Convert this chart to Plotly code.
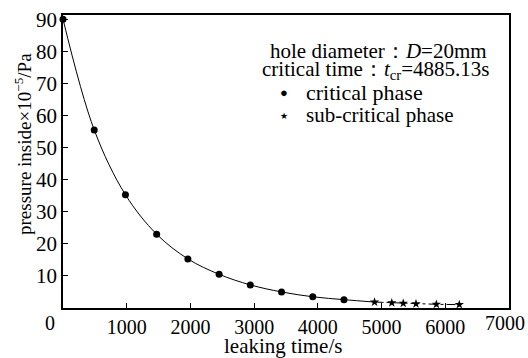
import plotly.graph_objects as go

crit_t = [0, 490, 980, 1470, 1960, 2450, 2940, 3430, 3920, 4410]
crit_p = [90, 55.5, 35.3, 23.0, 15.3, 10.5, 7.2, 5.0, 3.5, 2.6]
sub_t = [4890, 5160, 5340, 5540, 5860, 6220]
sub_p = [1.85, 1.6, 1.45, 1.3, 1.15, 1.05]
xticks = [1000, 2000, 3000, 4000, 5000, 6000]
yticks = [10, 20, 30, 40, 50, 60, 70, 80, 90]

FONT = "Liberation Serif"
L, T, W, H = 63, 15, 446, 293


def px(xp, yp):
    return (xp - L) / W, 1 - (yp - T) / H


def ann(text, xp, yp, size, xanchor="center", angle=0):
    x, y = px(xp, yp)
    return dict(text=text, x=x, y=y, xref="paper", yref="paper", xanchor=xanchor,
                yanchor="middle", showarrow=False, textangle=angle,
                font=dict(size=size, family=FONT, color="black"))


fig = go.Figure()
fig.add_trace(go.Scatter(x=crit_t + sub_t[:1], y=crit_p + sub_p[:1], mode="lines",
                         line=dict(color="black", width=1, shape="spline"),
                         showlegend=False, hoverinfo="skip", cliponaxis=False))
fig.add_trace(go.Scatter(x=sub_t, y=sub_p, mode="lines+markers", name="sub-critical phase",
                         line=dict(color="black", width=1, dash="dashdot"),
                         marker=dict(symbol="star", size=7, color="black"), showlegend=False,
                         cliponaxis=False))
fig.add_trace(go.Scatter(x=crit_t, y=crit_p, mode="markers", name="critical phase",
                         marker=dict(symbol="circle", size=7, color="black"), showlegend=False,
                         cliponaxis=False))

fig.update_layout(
    template="none",
    width=528, height=358,
    margin=dict(l=L, r=528 - L - W, t=T, b=358 - T - H, autoexpand=False),
    paper_bgcolor="white", plot_bgcolor="white",
    font=dict(family=FONT, size=20, color="black"),
    showlegend=False,
    xaxis=dict(range=[0, 7000], tickvals=xticks, ticks="inside", ticklen=5,
               tickcolor="black", showgrid=False, zeroline=False, automargin=False,
               showline=True, linecolor="black", linewidth=1.5, mirror=True,
               tickfont=dict(size=20)),
    yaxis=dict(range=[0, 91.3], tickvals=yticks, ticks="inside", ticklen=5,
               tickcolor="black", showgrid=False, zeroline=False, automargin=False,
               showline=True, linecolor="black", linewidth=1.5, mirror=True,
               tickfont=dict(size=21)),
    annotations=[
        ann("hole diameter：<i>D</i>=20mm", 378, 51, 21),
        ann("critical time：<i>t</i><sub>cr</sub>=4885.13s", 375, 70, 21),
        ann("●", 284, 93, 13),
        ann("critical phase", 304, 92, 22, xanchor="left"),
        ann("★", 284, 116, 9),
        ann("sub-critical phase", 304, 115, 21, xanchor="left"),
        ann("0", 50, 323, 20),
        ann("7000", 505, 323, 20),
        ann("leaking time/s", 283, 346, 21),
        ann("pressure inside×10<sup>−5</sup>/Pa", 23, 144, 19, angle=-90),
    ],
)
fig.write_html("out.html")
